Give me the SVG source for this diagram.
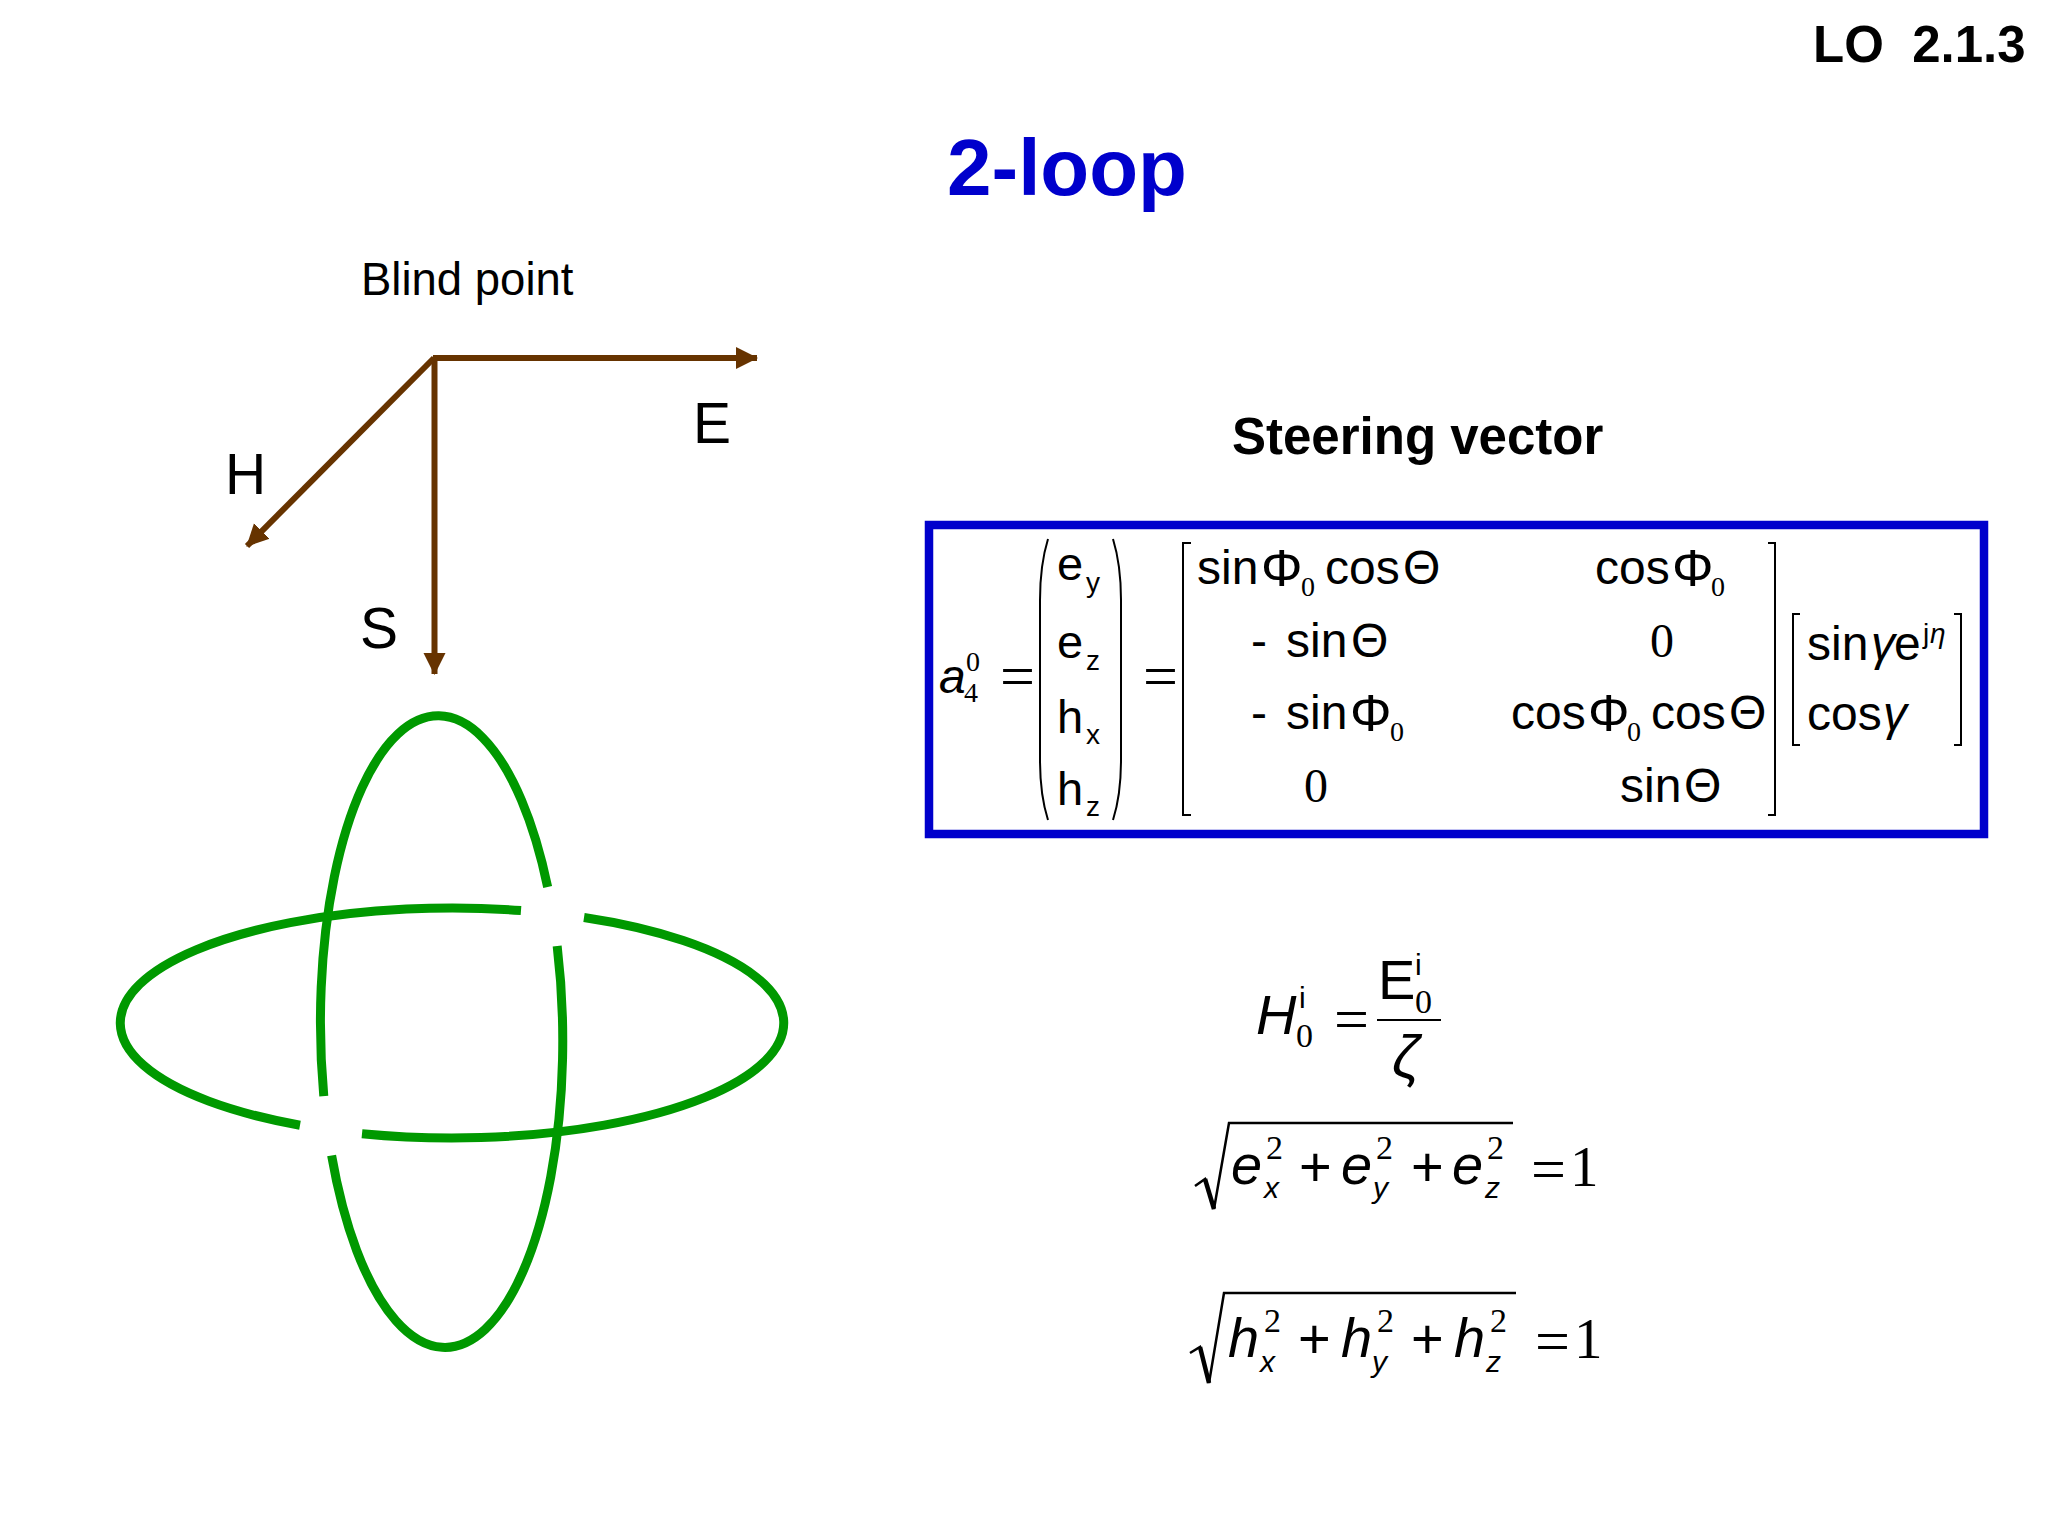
<svg xmlns="http://www.w3.org/2000/svg" width="2048" height="1536" viewBox="0 0 2048 1536">
<style>
text{font-family:"Liberation Sans",Arial,sans-serif;fill:#000}
.b{font-weight:bold}
.t{font-size:47px}
.m{font-size:48px}
.f{font-size:52px}
.s{font-family:"Liberation Serif","Times New Roman",serif}
.i{font-style:italic}
.lab{font-size:57px}
.sub{font-size:28px}
.ss{font-size:28px}
.l{font-size:56px}
.n{font-size:30px}
.d{font-size:34px}
.eq{font-size:62px}
.one{font-size:57px}
.br{fill:none;stroke:#000;stroke-width:2}
.loop{fill:none;stroke:#009900;stroke-width:9}
.arrow{fill:none;stroke:#663300;stroke-width:6}
</style>
<defs>
<marker id="ah" markerUnits="userSpaceOnUse" markerWidth="24" markerHeight="24" refX="21" refY="12" orient="auto"><path d="M0 1 L22 12 L0 23Z" fill="#663300"/></marker>
</defs>
<rect width="2048" height="1536" fill="#fff"/>
<g id="header">
<text x="1813" y="62" class="b" font-size="51" xml:space="preserve">LO  2.1.3</text>
<text x="947" y="195" class="b" font-size="80" style="fill:#0000cc">2-loop</text>
</g>
<g id="field-labels">
<text x="361" y="295" font-size="45.5">Blind point</text>
<text x="693" y="443" class="lab">E</text>
<text x="225" y="494" class="lab">H</text>
<text x="360" y="648" class="lab">S</text>
</g>
<g id="connectors">
<path class="arrow" d="M433 358 L757 358" marker-end="url(#ah)"/>
<path class="arrow" d="M434.5 358 L434.5 674" marker-end="url(#ah)"/>
<path class="arrow" d="M434 358 L247 546" marker-end="url(#ah)"/>
</g>
<g id="loop-horizontal" transform="translate(0 1)">
<path class="loop" d="M521 909.5 A332 115 0 0 0 300 1124.2 M362 1132.7 A332 115 0 0 0 584 916.5"/>
</g>
<g id="loop-vertical" transform="rotate(-0.7 441.5 1031)">
<path class="loop" d="M549.4 888.3 A121 315 0 0 0 323 1094.6 M330.1 1154.2 A121 315 0 0 0 558.2 947.4"/>
</g>
<g id="steering-title">
<text x="1232" y="454" class="b" font-size="51">Steering vector</text>
</g>
<g id="steering-box">
<rect x="929" y="525" width="1055" height="309" fill="none" stroke="#0000cc" stroke-width="8.5"/>
<text x="939" y="693" class="m i">a</text>
<text x="966" y="671" class="s ss">0</text>
<text x="964" y="702" class="s ss">4</text>
<text x="1000" y="697" class="s eq">=</text>
<path class="br" d="M1048 539 Q1040 565 1040 600 V760 Q1040 795 1048 820"/>
<path class="br" d="M1113 539 Q1121 565 1121 600 V760 Q1121 795 1113 820"/>
<text x="1057" y="580" class="t">e</text><text x="1086" y="592" class="sub">y</text>
<text x="1057" y="658" class="t">e</text><text x="1086" y="670" class="sub">z</text>
<text x="1057" y="733" class="t">h</text><text x="1086" y="744" class="sub">x</text>
<text x="1057" y="805" class="t">h</text><text x="1086" y="816" class="sub">z</text>
<text x="1143" y="697" class="s eq">=</text>
<path class="br" d="M1191 543 H1183 V815 H1191"/>
<path class="br" d="M1768 543 H1775 V815 H1768"/>
<text x="1197" y="584" class="m">sin</text><text x="1261" y="586" class="f">Φ</text><text x="1301" y="596" class="s ss">0</text><text x="1325" y="584" class="m">cos</text><text x="1403" y="584" class="m">Θ</text>
<text x="1595" y="584" class="m">cos</text><text x="1672" y="586" class="f">Φ</text><text x="1711" y="596" class="s ss">0</text>
<text x="1251" y="657" class="m">-</text><text x="1286" y="657" class="m">sin</text><text x="1351" y="657" class="m">Θ</text>
<text x="1650" y="657" class="s m">0</text>
<text x="1251" y="729" class="m">-</text><text x="1286" y="729" class="m">sin</text><text x="1350" y="731" class="f">Φ</text><text x="1390" y="741" class="s ss">0</text>
<text x="1511" y="729" class="m">cos</text><text x="1588" y="731" class="f">Φ</text><text x="1627" y="741" class="s ss">0</text><text x="1651" y="729" class="m">cos</text><text x="1729" y="729" class="m">Θ</text>
<text x="1304" y="802" class="s m">0</text>
<text x="1620" y="802" class="m">sin</text><text x="1684" y="802" class="m">Θ</text>
<path class="br" d="M1800 614 H1793 V745 H1800"/>
<path class="br" d="M1954 614 H1961 V745 H1954"/>
<text x="1807" y="660" class="m">sin</text><text x="1871" y="660" class="m i">γ</text><text x="1894" y="660" class="m">e</text><text x="1923" y="643" class="ss">j</text><text x="1930" y="643" class="ss i">η</text>
<text x="1807" y="730" class="m">cos</text><text x="1883" y="730" class="m i">γ</text>
</g>
<g id="eq-h">
<text x="1256" y="1034" class="l i">H</text>
<text x="1299" y="1008" class="n">i</text>
<text x="1296" y="1047" class="s d">0</text>
<text x="1334" y="1040" class="s eq">=</text>
<text x="1378" y="999" class="l">E</text>
<text x="1415" y="975" class="n">i</text>
<text x="1415" y="1013" class="s d">0</text>
<path d="M1377 1020 H1441" stroke="#000" stroke-width="2"/>
<text x="1392" y="1077" font-size="60" class="i">ζ</text>
</g>
<g id="eq-e">
<path d="M1195 1186 L1205 1179 L1214 1209 L1229 1123 H1513" fill="none" stroke="#000" stroke-width="2.5"/>
<path d="M1205 1179 L1214 1209" fill="none" stroke="#000" stroke-width="4.5"/>
<text x="1231" y="1184" class="l i">e</text><text x="1266" y="1159" class="s d">2</text><text x="1264" y="1198" class="n i">x</text>
<text x="1299" y="1186" class="l">+</text>
<text x="1341" y="1184" class="l i">e</text><text x="1376" y="1159" class="s d">2</text><text x="1373" y="1198" class="n i">y</text>
<text x="1411" y="1186" class="l">+</text>
<text x="1452" y="1184" class="l i">e</text><text x="1487" y="1159" class="s d">2</text><text x="1485" y="1198" class="n i">z</text>
<text x="1531" y="1190" class="s eq">=</text><text x="1570" y="1186" class="s one">1</text>
</g>
<g id="eq-h-norm">
<path d="M1190 1353 L1200 1347 L1209 1383 L1224 1293 H1516" fill="none" stroke="#000" stroke-width="2.5"/>
<path d="M1200 1347 L1209 1383" fill="none" stroke="#000" stroke-width="4.5"/>
<text x="1228" y="1357" class="l i">h</text><text x="1264" y="1332" class="s d">2</text><text x="1260" y="1372" class="n i">x</text>
<text x="1298" y="1358" class="l">+</text>
<text x="1341" y="1357" class="l i">h</text><text x="1377" y="1332" class="s d">2</text><text x="1372" y="1372" class="n i">y</text>
<text x="1411" y="1358" class="l">+</text>
<text x="1454" y="1357" class="l i">h</text><text x="1490" y="1332" class="s d">2</text><text x="1486" y="1372" class="n i">z</text>
<text x="1535" y="1362" class="s eq">=</text><text x="1574" y="1358" class="s one">1</text>
</g>
</svg>
